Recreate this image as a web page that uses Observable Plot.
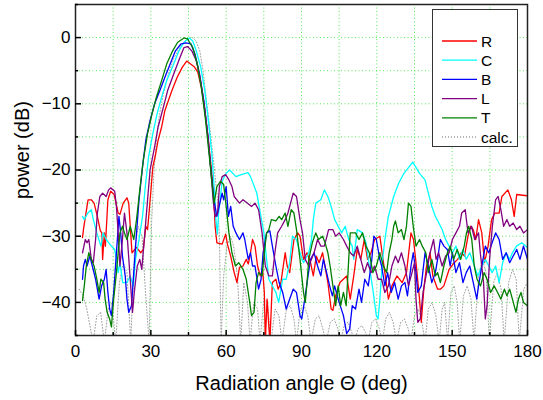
<!DOCTYPE html>
<html>
<head>
<meta charset="utf-8">
<script src="https://cdn.jsdelivr.net/npm/d3@7"></script>
<script src="https://cdn.jsdelivr.net/npm/@observablehq/plot@0.6"></script>
<style>
  html, body { margin: 0; padding: 0; background: #fff; }
  #chart { width: 543px; height: 400px; }
</style>
</head>
<body>
<div id="chart"></div>
<script>
// ---- data: [angle (deg), power (dB)] ----
const seriesNames = ["R", "C", "B", "L", "T", "calc."];
const seriesColors = ["#ff0000", "#00ffff", "#0000ff", "#800080", "#008000", "#a0a0a0"];
const xTicks = [0, 30, 60, 90, 120, 150, 180];
const xMinorTicks = [15, 45, 75, 105, 135, 165];
const yTicks = [-40, -30, -20, -10, 0];
const yMinorTicks = [-45, -35, -25, -15, -5, 5];

const R = [[2.8,-30.2],[3.2,-28.9],[5,-24.5],[6.3,-24.5],[7.4,-25],[8.7,-27],[9.9,-29.2],[10.5,-29.5],[10.8,-33.5],[11.5,-29.5],[11.9,-31.5],[12.9,-24.5],[14,-23.2],[15.4,-23.7],[17,-26.5],[17.7,-26.7],[19,-25],[20.5,-24.2],[21.2,-25],[21.8,-28.5],[22.5,-32.5],[24.3,-31.7],[26,-32.5],[27,-32],[28,-28.5],[28.7,-29],[29.4,-26],[30.8,-19.5],[31.7,-18],[32.9,-15.5],[34.3,-13.5],[35.6,-11],[37,-9.5],[38.4,-8],[40.5,-6],[42.5,-4.5],[44.3,-3.55],[45.7,-3.95],[47.4,-4.45],[48.7,-5.2],[50.1,-7.5],[51.5,-11],[52.9,-15.5],[54.3,-20.5],[55,-23.5],[55.6,-28.5],[56.3,-31],[58.4,-31.2],[59.8,-29.7],[60.5,-31.2],[61.8,-33],[63.2,-35.5],[64.3,-37],[65.3,-34.7],[66.7,-34.5],[68,-33.5],[68.8,-34.2],[69.7,-32.5],[70.5,-30.5],[71.5,-31.5],[72.5,-34.5],[73.6,-36],[74.5,-35],[75.2,-38.5],[75.6,-46],[76.3,-39.5],[77.4,-46],[78.4,-37],[79.8,-36.5],[80.7,-38],[81.8,-37],[83.5,-32.5],[84.3,-34.5],[85.3,-35.5],[87,-30.5],[88.5,-29.5],[89.4,-30],[90.8,-33.5],[92.2,-32.5],[93.6,-34],[94.7,-36],[95.9,-33],[97,-34],[98.4,-32.5],[100.5,-37],[101.8,-41],[102.5,-41.2],[103.6,-39],[105.3,-37],[108,-36],[109.4,-39.5],[110.8,-36],[112.2,-32],[113.6,-33.5],[115,-30.5],[116.3,-33.5],[117.7,-32.5],[119.1,-30.5],[121.2,-30],[122.1,-32.5],[123.2,-35.5],[124.6,-39.5],[126,-37.5],[128,-36],[130.1,-37],[131.8,-35.5],[133.6,-29.5],[134.6,-30.5],[135.6,-34],[137,-39.5],[137.7,-43],[138.7,-38],[139.8,-34.5],[141.2,-32.5],[142.3,-36],[144.2,-38],[145.3,-38],[146.7,-37.5],[148.8,-35],[150.8,-34],[152.2,-33.5],[153.6,-32.5],[154.9,-33],[156.3,-30],[157.4,-28.5],[158.4,-29],[159.4,-30.5],[160.5,-27.5],[161.8,-29.5],[162.9,-34],[164.3,-31.5],[165.7,-27.5],[167,-26.5],[168.7,-26.5],[169.8,-24],[172.2,-23],[173.6,-24.5],[174.7,-27],[175.7,-23.7],[180,-23.9]];

const C = [[2.8,-27],[3.5,-27.5],[4.9,-26.5],[6.3,-26],[7.1,-27.5],[8.5,-29.5],[10.1,-31.5],[11,-29.5],[12.2,-30.5],[14.3,-31.5],[15.6,-32],[16.3,-33.5],[17,-35.5],[17.7,-34],[18.8,-37],[20.5,-37],[21.8,-36],[23,-37.5],[23.9,-33.5],[25.3,-30.5],[26.7,-27],[27.8,-22.5],[29.1,-18],[30.8,-14.5],[32.5,-11.5],[34.3,-9],[36.3,-6.5],[39.1,-4],[41.2,-2],[43.2,-0.7],[45.3,-0.05],[46.7,-0.5],[48.1,-2],[49.9,-4.5],[51.5,-8],[52.9,-12.5],[54.3,-17.5],[55.2,-22.5],[55.9,-27.5],[56.5,-29.7],[57,-26.5],[58.4,-21.7],[60,-20.5],[61.4,-20],[63.9,-21],[66,-20.7],[68.7,-20.4],[69.7,-21],[72.2,-23.5],[73.6,-26.5],[75,-29.5],[76.1,-33.5],[77,-36.5],[78.4,-37.5],[79.8,-38.5],[80.9,-40],[81.6,-38.5],[82.5,-36.5],[83.9,-36.5],[85.3,-34],[86.4,-30],[88,-30.5],[89.4,-32.5],[90.8,-34],[92.9,-32.5],[94,-30.5],[94.7,-27.5],[95.7,-25],[97.7,-24.5],[99.1,-23],[100.5,-24],[101.8,-25.5],[103.2,-27.5],[104.6,-28.5],[106,-29.5],[107.4,-28.5],[108.8,-30.5],[110.2,-31.5],[110.8,-33.5],[112.2,-29],[114.3,-29.5],[115.7,-31],[117,-34.5],[118.4,-38],[119.8,-42],[120.5,-42.5],[121.2,-39.5],[122.3,-33.5],[123.2,-30.5],[124.6,-27],[126.7,-24],[128.7,-22],[130.8,-20.5],[132.9,-19.5],[134.3,-18.8],[135.4,-19.5],[137,-20.5],[139.2,-21.5],[140.5,-23.5],[141.9,-25.5],[143.3,-27],[144.7,-28],[146,-29],[147.4,-30.5],[148.8,-31.5],[150.1,-32.5],[151.5,-31.5],[152.9,-33.5],[154.3,-32],[155.6,-33.5],[157,-32.5],[158.4,-34],[160.2,-36],[161.8,-34.5],[163.2,-33.5],[164.6,-34.5],[165.9,-35.5],[167.3,-34.5],[168.7,-37],[170.1,-34],[171.5,-32.5],[172.9,-33.5],[174,-32.5],[175.6,-31.5],[177.7,-31],[180,-31.7]];

const B = [[2.8,-36.5],[3.2,-34.5],[3.9,-33.5],[4.6,-34.5],[5.7,-33],[6.7,-34.5],[8,-36.5],[8.7,-38],[9.4,-39.5],[10.4,-37.5],[11.5,-36.5],[12.2,-35],[12.9,-38.5],[13.6,-41],[14.3,-42],[15.2,-38.5],[16.3,-32.5],[17.3,-27],[18,-29.5],[18.7,-33],[19.8,-36],[20.5,-39.5],[21.2,-41.5],[22.3,-40.5],[23.2,-35.5],[24.3,-29.5],[25.3,-24.5],[26.7,-19.5],[28,-15.5],[29.7,-12.5],[31.5,-10],[33.6,-8],[35.6,-6],[37.7,-4],[39.8,-2],[41.9,-1],[43.9,-0.8],[46,-0.95],[47.6,-2.5],[49.4,-5.5],[51.1,-9.5],[52.6,-14.5],[53.8,-19.5],[55,-24],[55.6,-25.5],[56.3,-27],[57.2,-25.5],[58.4,-23.5],[59,-24.5],[60,-22.5],[60.9,-27],[61.8,-25.5],[62.8,-28.5],[63.9,-29.5],[65.3,-30.5],[66.7,-29.5],[67.4,-30.5],[68.8,-33.5],[69.7,-32.5],[70.5,-34.5],[71.5,-34.5],[72.9,-38],[73.9,-36.5],[74.7,-32.5],[76.1,-29.5],[77.4,-29.2],[78.4,-31.5],[79.8,-34.5],[81.1,-37],[82.5,-38.5],[83.9,-41],[85.3,-39.5],[86.7,-38],[88,-38.5],[89.4,-42],[90.1,-42.5],[91.5,-39],[92.6,-36],[93.6,-33.5],[95,-32.5],[96.4,-34.5],[97.7,-36],[98.7,-33.5],[100,-35.5],[101.2,-37.5],[102.3,-39],[103.2,-37.5],[104.6,-39.5],[106.7,-42],[108,-44.7],[109.2,-44],[110.2,-40.5],[111.5,-41],[112.9,-38],[113.9,-40],[115.2,-36.5],[116.6,-37.5],[118,-33.5],[118.8,-30],[119.8,-30.5],[121.2,-33.5],[121.9,-34.5],[123.2,-37.5],[124.3,-35.5],[125.7,-38.5],[127.1,-37],[128.5,-39.5],[129.8,-37.5],[131.2,-37],[132.2,-39],[133.6,-34.5],[134.5,-32.5],[135.6,-35.5],[136.3,-38.5],[137.7,-37.5],[139.2,-32.5],[140.5,-34.5],[141.9,-37],[143.3,-35.5],[144.2,-33.5],[145.3,-30.5],[146.7,-31.5],[148.1,-32],[149.2,-34.5],[150.1,-32.5],[151.5,-35.5],[152.9,-34],[154.3,-37],[155.6,-35.5],[157,-34.5],[158.4,-37],[159.8,-39.5],[160.5,-37.5],[161.8,-34.5],[163.2,-31.5],[164.6,-32.5],[165.9,-31],[167.3,-29.5],[168.7,-30.5],[170.1,-33.5],[171.5,-32.5],[172.9,-34],[174.3,-33],[175.7,-32],[177,-33.5],[178.4,-31.5],[180,-33.5]];

const L = [[2.8,-32.5],[3.9,-30.5],[4.6,-31],[5.3,-30.5],[6.3,-33.5],[7.1,-34],[8,-30.5],[8.7,-26.5],[9.7,-24],[10.8,-23.5],[12.2,-24],[13.2,-23],[14,-22.7],[15.6,-23.2],[16.3,-25.5],[17,-29.5],[17.7,-34.5],[18.7,-30.5],[19.5,-26.5],[20.5,-29.5],[21.8,-36.5],[22.7,-41.5],[23.4,-38.5],[24.6,-34.5],[25.6,-33.5],[26.4,-35],[27.4,-30.5],[28.7,-24.5],[29.7,-20],[31.5,-16.5],[32.9,-13.5],[35,-10.5],[36.7,-8],[39.1,-5.5],[41.6,-3],[43.2,-1.5],[44.6,-1.35],[46.3,-2],[48.1,-3.5],[49.6,-6],[51.2,-10],[52.9,-15.5],[54,-20.5],[54.8,-24.5],[55.6,-27],[56.6,-26.5],[57.3,-22.5],[58.4,-21],[59.8,-20.7],[61.1,-21.5],[62.3,-22.5],[63.2,-24],[65.3,-25],[66.7,-24.5],[68.4,-25],[70.1,-25.5],[71.5,-25],[72.9,-26],[74.3,-29.5],[75.6,-34.5],[77,-36],[78.4,-36],[79.4,-32.5],[80.5,-29.5],[82.1,-28.5],[83.5,-27.5],[84.6,-26.5],[86.7,-23.5],[88,-24],[89.4,-27.5],[90.4,-29.5],[91.5,-33.5],[92.9,-34.5],[95,-32.5],[96.4,-30.5],[97.7,-31.5],[99.1,-31.5],[100.8,-29],[102.5,-29],[103.6,-30],[105,-29.5],[106.7,-30.5],[108,-31.5],[109.4,-32.5],[110.8,-33],[112.2,-31.5],[113.6,-33.5],[115,-35.5],[116.3,-34],[117.7,-35.5],[119.1,-34.5],[120.5,-36.5],[121.9,-36.5],[123.2,-38.5],[124.6,-37.5],[126,-34.5],[127.4,-33],[128.5,-34],[129.8,-32.5],[131.2,-34.5],[132.6,-37.5],[134,-35.5],[135,-34],[135.6,-39.5],[136.3,-43],[137.3,-42.5],[138.4,-38.5],[139.8,-35.5],[141.2,-32.5],[142.6,-30.5],[143.6,-33.5],[144.6,-32.5],[146,-34.5],[147.4,-33],[148.8,-32.5],[150.1,-30.5],[151.5,-29.5],[152.9,-28.5],[153.8,-26.5],[155.2,-26],[156.3,-29.5],[157.7,-28.5],[159,-30.5],[160.5,-29.5],[161.2,-32.5],[162.5,-37],[163.2,-42.5],[163.9,-40.5],[164.9,-33.5],[166,-28.5],[167.3,-24.5],[168.3,-24],[169.4,-26],[170.5,-28.5],[171.8,-27.5],[172.9,-28.5],[174.3,-28],[175.7,-29],[177,-28.5],[178.4,-29.5],[180,-29]];

const T = [[2.8,-39.7],[3.5,-37.5],[4.3,-34.5],[5.3,-32.5],[6.3,-33.5],[7.4,-34.5],[8.5,-36.5],[9.4,-38.5],[10.1,-36.5],[11.2,-37],[11.8,-39.5],[12.6,-41.5],[13.6,-42.5],[14.3,-43.7],[15.2,-39.5],[16.3,-35.5],[17,-32.5],[17.7,-29.5],[18.7,-28.5],[19.5,-29.5],[20.5,-30.5],[21.8,-28.5],[22.5,-29.5],[23.2,-30.5],[24.3,-27.5],[25.6,-23],[27,-18.5],[28.7,-14.5],[30.5,-11.5],[32.2,-9],[34.3,-6.5],[36.3,-4],[38.7,-2],[40.7,-0.7],[43.2,-0.05],[44.6,-0.2],[46.7,-1.5],[48.5,-4],[50.1,-7.5],[51.8,-12.5],[53.3,-18],[54.5,-22.5],[55.2,-25],[56.3,-22.5],[57.7,-21.7],[59,-22.2],[60,-25.5],[61.1,-29.5],[62.3,-32.5],[63.7,-34.5],[65,-34],[66.7,-35],[68,-36.5],[69.2,-39.5],[70.1,-42],[71.1,-41.5],[71.9,-37],[72.9,-35.5],[74.3,-36],[75.2,-32.5],[76.1,-29.5],[77,-29],[78,-27.5],[79.8,-27.7],[81.1,-27],[82.1,-27.5],[83.5,-26.5],[84.6,-28.5],[85.9,-26],[87,-26.5],[88,-29],[89.4,-33.5],[90.8,-38.5],[91.5,-40],[92.2,-37],[92.9,-33.5],[94.3,-31],[95.7,-29.5],[96.8,-30.5],[98.4,-30],[99.4,-31],[100.5,-32.5],[101.4,-34.5],[102.5,-37.5],[103.6,-40.5],[104.6,-37.5],[105.6,-40.5],[106.7,-38.5],[107.8,-40.5],[108.8,-33.5],[109.4,-29.5],[111.5,-29.5],[112.9,-30.5],[114.3,-29.5],[115.7,-31.5],[117,-32.5],[118.4,-35.5],[119.8,-34.5],[121.2,-32.5],[122.6,-34.5],[123.9,-35.5],[124.9,-32.5],[126,-30.5],[126.7,-28.5],[127.4,-27.7],[128.5,-29.5],[129.8,-29],[130.8,-30.5],[131.8,-28.5],[132.6,-25],[133.6,-25.5],[134.5,-28.5],[135.6,-31.5],[137,-30.5],[138.1,-31.5],[139.5,-32.5],[140.5,-35.5],[141.9,-33.5],[143.3,-36],[144.2,-35.5],[145.3,-37],[146.7,-34.5],[148.1,-32.5],[149.2,-31.5],[150.6,-33.5],[152,-32],[153.4,-33.5],[154.8,-31.5],[155.7,-29.5],[156.6,-28.5],[157.8,-30.5],[158.8,-34.5],[159.9,-36.5],[161.3,-37.5],[162.7,-35.5],[163.9,-36.5],[165.3,-38.5],[166.7,-37.5],[168.1,-38.5],[169.4,-39.5],[170.8,-38],[171.8,-39],[172.9,-38],[174,-39.5],[175.4,-41.5],[176.4,-39.5],[177.4,-38.5],[178.4,-40],[180,-40.5]];

const calc = [[1.5,-38],[3,-39],[4.5,-41],[6,-44],[7,-46],[8.5,-42],[10,-41.5],[11.5,-46],[13,-41],[14.5,-40],[16,-46],[17.5,-37],[19,-34],[20.5,-35.5],[22,-46],[23.5,-32],[25,-28.5],[26.5,-30],[27.8,-38],[29.3,-46],[30.3,-28],[31.2,-20.5],[32.3,-15],[33.5,-11.5],[35,-8.5],[37,-5.5],[39,-3.3],[41,-1.8],[43,-0.7],[45,-0.1],[46.5,0],[48,-0.5],[49.5,-2],[50.8,-5],[52,-9],[53.3,-13],[54.6,-17.4],[55.6,-21],[56.6,-24.5],[57.3,-30],[58,-46],[59,-36],[60.3,-31.5],[61.7,-30],[63,-31.5],[64.5,-36],[65.8,-46],[67,-37],[68.5,-40],[69.5,-46],[71,-40],[72.5,-41],[73.5,-46],[75,-39.5],[76.5,-40],[77.8,-46],[79.5,-41],[81,-42],[82.2,-46],[84,-41],[85.5,-40.5],[87,-42.5],[88,-46],[89.5,-41],[91,-40.5],[92.5,-42],[93.8,-46],[95.5,-42.5],[97,-42],[98.5,-44],[99.8,-46],[101.5,-43],[103,-42.5],[104.5,-44],[105.5,-46],[107,-43.5],[108.5,-43],[110,-44.5],[111,-46],[112.5,-44],[114,-43.5],[115.5,-44.5],[116.5,-46],[118,-43],[119.5,-42.5],[121,-44],[122.2,-46],[123.5,-42.5],[125,-41.5],[126.5,-43],[127.8,-46],[129.5,-43],[131,-42.5],[132.5,-44],[133.5,-46],[135,-42],[136.5,-41],[138,-43],[139.2,-46],[140.5,-41],[142,-40],[143.5,-42],[144.8,-46],[146,-41],[147,-40],[148.2,-46],[149.5,-38.5],[150.8,-37.5],[152,-40],[153,-46],[154.5,-39],[156,-37.5],[157.5,-39.5],[158.7,-46],[160.5,-36],[162,-33.5],[163.5,-35.5],[164.8,-46],[166.5,-37],[168,-35.5],[169.5,-38],[170.7,-46],[172.5,-37],[174,-35],[175.5,-36.5],[176.7,-46],[178.5,-38],[180,-37]];

const measured = [R, C, B, L, T];

const gridColor = "#55e655";
const calcDash = "1,2";
const lineMarks = measured.map((s, i) =>
  Plot.line(s, {x: d => d[0], y: d => d[1], stroke: seriesColors[i], strokeWidth: 1.3, clip: true})
);

const chart = Plot.plot({
  width: 543,
  height: 400,
  marginLeft: 75,
  marginRight: 16,
  marginTop: 4,
  marginBottom: 65,
  style: {fontFamily: "'Liberation Sans', Arial, sans-serif", fontSize: "17px", color: "#000", background: "#fff", overflow: "visible"},
  x: {domain: [0, 180]},
  y: {domain: [-45, 5]},
  marks: [
    Plot.gridX(d3.range(15, 180, 15), {stroke: gridColor, strokeOpacity: 1, strokeWidth: 1, strokeDasharray: "1,2.5"}),
    Plot.gridY(d3.range(-40, 5, 5), {stroke: gridColor, strokeOpacity: 1, strokeWidth: 1, strokeDasharray: "1,2.5"}),
    Plot.line(calc, {x: d => d[0], y: d => d[1], stroke: seriesColors[5], strokeWidth: 1, strokeDasharray: calcDash, clip: true}),
    ...lineMarks,
    Plot.frame({stroke: "#222", strokeWidth: 1.5}),
    Plot.axisX(xTicks, {anchor: "bottom", tickSize: 0, tickPadding: 9, fontSize: 17, label: null}),
    Plot.axisX(xTicks, {anchor: "bottom", tickSize: -5, tickFormat: () => "", label: null, strokeWidth: 1.5}),
    Plot.axisX(xMinorTicks, {anchor: "bottom", tickSize: -3, tickFormat: () => "", label: null, strokeWidth: 1.5}),
    Plot.axisY(yTicks, {anchor: "left", tickSize: 0, tickPadding: 5, fontSize: 17, label: null}),
    Plot.axisY(yTicks, {anchor: "left", tickSize: -6, tickFormat: () => "", label: null, strokeWidth: 1.5}),
    Plot.axisY(yMinorTicks, {anchor: "left", tickSize: -3, tickFormat: () => "", label: null, strokeWidth: 1.5}),
    Plot.text(["Radiation angle Θ (deg)"], {frameAnchor: "bottom", textAnchor: "middle", lineAnchor: "middle", dy: 48, fontSize: 20, fill: "#000"}),
    Plot.text(["power (dB)"], {frameAnchor: "left", textAnchor: "middle", lineAnchor: "middle", dx: -53, dy: -20, rotate: -90, fontSize: 20, fill: "#000"})
  ]
});

// legend box
const svg = d3.select(chart);
const lg = svg.append("g")
  .attr("font-family", "'Liberation Sans', Arial, sans-serif")
  .attr("font-size", 15.5)
  .attr("text-anchor", "start");
lg.append("rect").attr("x", 432.5).attr("y", 9.5).attr("width", 85).attr("height", 137)
  .attr("fill", "#fff").attr("stroke", "#333").attr("stroke-width", 1);
seriesNames.forEach((name, i) => {
  const y = 41 + i * 19.2;
  lg.append("line").attr("x1", 442).attr("x2", 477).attr("y1", y).attr("y2", y)
    .attr("stroke", seriesColors[i]).attr("stroke-width", 1.3)
    .attr("stroke-dasharray", i === 5 ? calcDash : null);
  lg.append("text").attr("x", 481).attr("y", y).attr("dy", "0.36em")
    .attr("text-anchor", "start").attr("fill", "#000").text(name);
});

document.getElementById("chart").appendChild(chart);
</script>
</body>
</html>
